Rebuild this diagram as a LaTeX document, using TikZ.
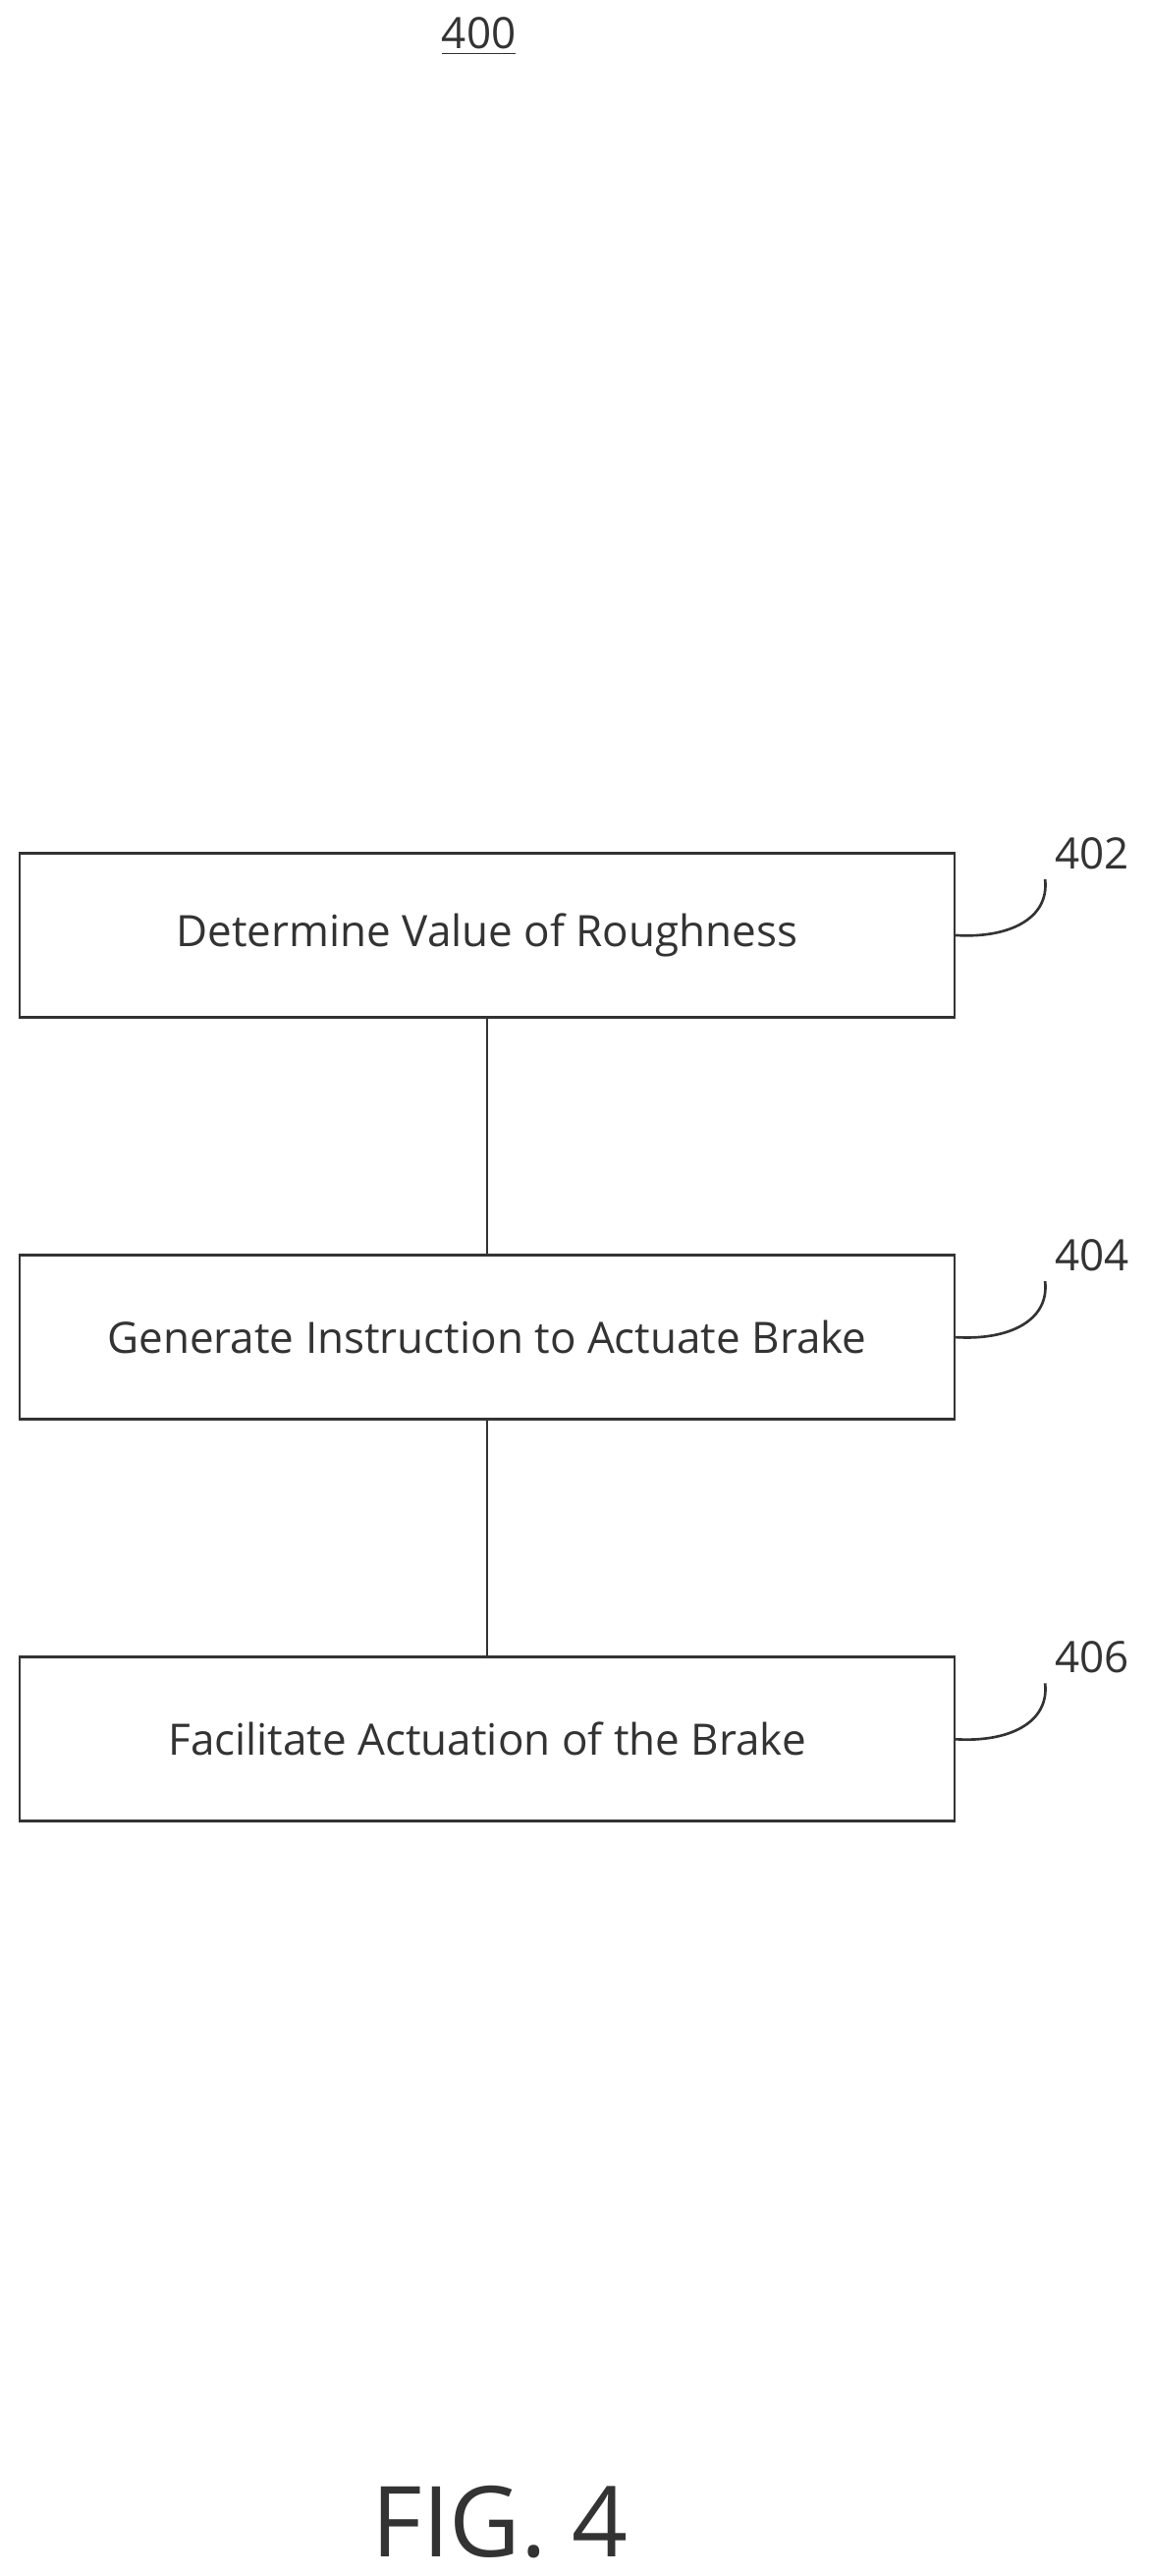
\documentclass[tikz,border=0pt]{standalone}
\usepackage{fontspec}
\setmainfont{Open Sans}
\usetikzlibrary{positioning}
\begin{document}
\begin{tikzpicture}[x=0.02cm,y=-0.02cm,
    stepbox/.style={rectangle, draw=black!80, line width=0.9pt, minimum width=11.4cm, minimum height=2cm, font=\fontsize{15}{18}\selectfont, text=black!80},
    ref/.style={font=\fontsize{15}{18}\selectfont, text=black!80},
    lead/.style={draw=black!80, line width=0.9pt}
]
    \useasboundingbox (0,0) rectangle (700,1570);
    \node[ref] (title) at (292,22) {\underline{400}};
    \node[stepbox] (s402) at (297,570) {Determine Value of Roughness};
    \node[stepbox] (s404) at (297,815) {Generate Instruction to Actuate Brake};
    \node[stepbox] (s406) at (297,1060) {Facilitate Actuation of the Brake};
    \draw[lead] (s402) -- (s404);
    \draw[lead] (s404) -- (s406);
    % reference numerals
    \foreach \n/\y in {402/520, 404/765, 406/1010} {
        \node[ref] (r\n) at (666,\y) {\n};
        \draw[lead] (s\n.east) .. controls (615,52+\y) and (640,40+\y) .. (r\n.south west);
    }
    \node[font=\fontsize{34}{40}\selectfont, text=black!80] (fig) at (305,1537) {FIG. 4};
\end{tikzpicture}
\end{document}
